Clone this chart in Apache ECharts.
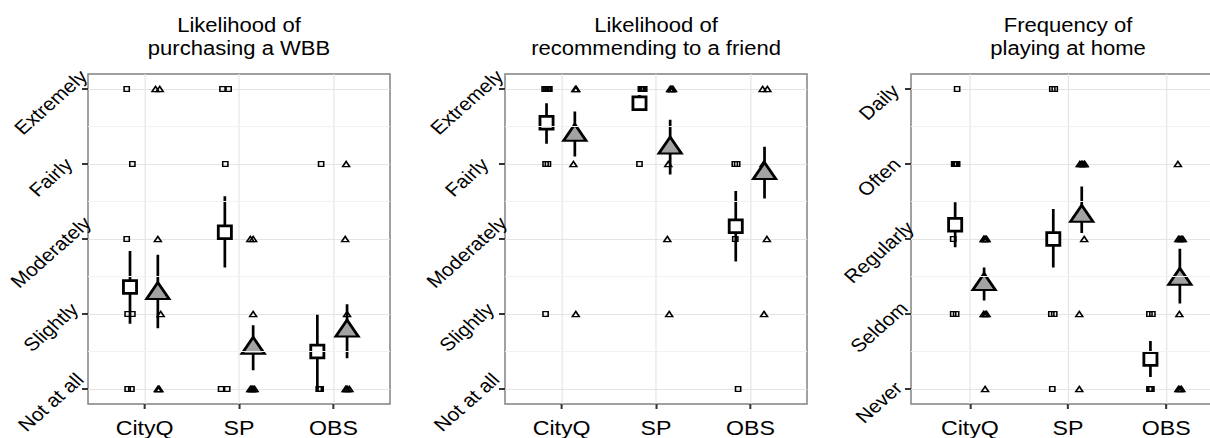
<!DOCTYPE html>
<html>
<head>
<meta charset="utf-8">
<title>WBB ratings</title>
<script src="https://cdn.jsdelivr.net/npm/echarts@6/dist/echarts.min.js"></script>
<style>
  html, body { margin: 0; padding: 0; background: #fff; overflow: hidden; }
  /* the source figure is stretched sideways, so draw narrower and scale it back out */
  #main { width: 1100px; height: 438px; transform: scaleX(1.13); transform-origin: 0 0; }
</style>
</head>
<body>
<div id="main"></div>
<script>
const STRETCH = 1.13;
const FONT = '"Liberation Sans", Arial, Helvetica, sans-serif';

const groups = ['CityQ', 'SP', 'OBS'];
const likelyLevels = ['Not at all', 'Slightly', 'Moderately', 'Fairly', 'Extremely'];
const freqLevels = ['Never', 'Seldom', 'Regularly', 'Often', 'Daily'];
const titles = [
  'Likelihood of\npurchasing a WBB',
  'Likelihood of\nrecommending to a friend',
  'Frequency of\nplaying at home'
];
const groupTicks = [1, 2, 3];
const levelTicks = [1, 2, 3, 4, 5];
const minorLevels = [1.5, 2.5, 3.5, 4.5];

// single answers: [group position + dodge/jitter, level]
const buySquares = [
  [0.81, 5], [0.87, 4], [0.81, 3], [0.82, 2], [0.87, 2], [0.82, 1], [0.86, 1],
  [1.825, 5], [1.89, 5], [1.855, 4], [1.81, 1], [1.875, 1],
  [2.87, 4], [2.845, 1], [2.855, 1], [2.865, 1]
];
const buyTriangles = [
  [1.115, 5], [1.16, 5], [1.14, 3], [1.17, 2], [1.14, 1], [1.15, 1], [1.155, 1],
  [2.12, 3], [2.15, 3], [2.15, 2], [2.12, 1], [2.13, 1], [2.14, 1], [2.15, 1], [2.165, 1],
  [3.135, 4], [3.125, 3], [3.145, 2], [3.13, 1], [3.14, 1], [3.15, 1], [3.17, 1]
];
const recSquares = [
  [0.82, 5], [0.835, 5], [0.85, 5], [0.86, 5], [0.87, 5], [0.83, 4], [0.855, 4], [0.83, 2],
  [1.84, 5], [1.85, 5], [1.86, 5], [1.875, 5], [1.825, 4],
  [2.835, 4], [2.86, 4], [2.84, 3], [2.87, 1]
];
const recTriangles = [
  [1.145, 5], [1.155, 5], [1.125, 4], [1.15, 2],
  [2.15, 5], [2.16, 5], [2.17, 5], [2.18, 5], [2.13, 4], [2.12, 3], [2.14, 2],
  [3.13, 5], [3.18, 5], [3.14, 4], [3.175, 3], [3.145, 2]
];
const playSquares = [
  [0.87, 5], [0.84, 4], [0.85, 4], [0.86, 4], [0.87, 4], [0.83, 3], [0.83, 2], [0.86, 2],
  [1.84, 5], [1.865, 5], [1.86, 3], [1.83, 2], [1.86, 2], [1.84, 1],
  [2.83, 2], [2.86, 2], [2.83, 1], [2.84, 1], [2.85, 1]
];
const playTriangles = [
  [1.14, 3], [1.15, 3], [1.16, 3], [1.17, 3], [1.14, 2], [1.155, 2], [1.17, 2], [1.155, 1],
  [2.12, 4], [2.135, 4], [2.15, 4], [2.165, 4], [2.17, 4], [2.165, 3], [2.115, 2], [2.115, 1],
  [3.12, 4], [3.125, 3], [3.14, 3], [3.155, 3], [3.17, 3], [3.135, 2], [3.125, 1], [3.14, 1], [3.155, 1]
];

// means with error bars: [x, mean, lower, upper]
const buySquareMeans = [[0.845, 2.36, 1.87, 2.84], [1.85, 3.09, 2.62, 3.57], [2.83, 1.50, 1.00, 1.99]];
const buyTriangleMeans = [[1.14, 2.31, 1.81, 2.79], [2.15, 1.58, 1.25, 1.85], [3.145, 1.81, 1.41, 2.13]];
const recSquareMeans = [[0.84, 4.55, 4.27, 4.81], [1.825, 4.81, 4.71, 4.92], [2.845, 3.17, 2.70, 3.64]];
const recTriangleMeans = [[1.14, 4.42, 4.10, 4.70], [2.15, 4.25, 3.86, 4.59], [3.15, 3.91, 3.54, 4.23]];
const playSquareMeans = [[0.85, 3.19, 2.89, 3.49], [1.85, 3.00, 2.62, 3.40], [2.84, 1.40, 1.16, 1.64]];
const playTriangleMeans = [[1.145, 2.43, 2.18, 2.62], [2.14, 3.34, 3.08, 3.70], [3.14, 2.50, 2.14, 2.87]];

// panel layout in picture pixels (before the sideways stretch is undone)
const panels = [
  { left: 88, width: 302, labelMargin: 20, levels: likelyLevels,
    squares: buySquares, triangles: buyTriangles, sqMeans: buySquareMeans, triMeans: buyTriangleMeans },
  { left: 505, width: 302, labelMargin: 21, levels: likelyLevels,
    squares: recSquares, triangles: recTriangles, sqMeans: recSquareMeans, triMeans: recTriangleMeans },
  { left: 911, width: 314, labelMargin: 15.5, levels: freqLevels,
    squares: playSquares, triangles: playTriangles, sqMeans: playSquareMeans, triMeans: playTriangleMeans }
];

const grids = [], xAxes = [], yAxes = [], series = [], titleList = [];

function errorBar(params, api) {
  const top = api.coord([api.value(0), api.value(2)]);
  const bottom = api.coord([api.value(0), api.value(1)]);
  return {
    type: 'line',
    shape: { x1: top[0], y1: top[1], x2: bottom[0], y2: bottom[1] },
    style: { stroke: '#000', lineWidth: 2.4 }
  };
}

panels.forEach((p, i) => {
  const left = p.left / STRETCH;
  const width = p.width / STRETCH;

  grids.push({
    left: left, width: width, top: 74, height: 332,
    show: true, borderColor: '#808080', borderWidth: 1.3, backgroundColor: 'transparent'
  });

  titleList.push({
    text: titles[i],
    left: left + width / 2,
    top: 14,
    textAlign: 'center',
    padding: 0,
    textStyle: { fontSize: 19.5, lineHeight: 22.7, fontWeight: 'normal', color: '#000', fontFamily: FONT }
  });

  xAxes.push({
    type: 'value', gridIndex: i, min: 0.4, max: 3.6,
    axisLine: { show: false },
    axisTick: { show: true, customValues: groupTicks, length: 5, lineStyle: { color: '#333', width: 1.8 } },
    axisLabel: {
      customValues: groupTicks,
      formatter: v => groups[Math.round(v) - 1],
      margin: 13, fontSize: 20.5, color: '#000', fontFamily: FONT
    },
    splitLine: { show: true, lineStyle: { color: '#e4e4e4', width: 1 } }
  });

  yAxes.push({
    type: 'value', gridIndex: i, min: 0.8, max: 5.2,
    axisLine: { show: false },
    axisTick: { show: true, customValues: levelTicks, length: 5.3, lineStyle: { color: '#333', width: 2 } },
    axisLabel: {
      customValues: levelTicks,
      formatter: v => p.levels[Math.round(v) - 1],
      rotate: 45, align: 'center', verticalAlign: 'middle',
      padding: [0, 37, 0, 0],
      margin: p.labelMargin, fontSize: 18.5, color: '#000', fontFamily: FONT
    },
    splitLine: { show: true, lineStyle: { color: '#e4e4e4', width: 1 } }
  });

  // single answers, hollow so that stacked answers turn dark
  series.push({
    type: 'scatter', xAxisIndex: i, yAxisIndex: i, silent: true,
    data: p.squares, symbol: 'rect', symbolSize: [4.6, 4.8],
    itemStyle: { color: 'rgba(0,0,0,0)', borderColor: '#000', borderWidth: 1.4, opacity: 1 },
    markLine: {
      silent: true, symbol: ['none', 'none'], label: { show: false },
      lineStyle: { color: '#f2f2f2', width: 1, type: 'solid' },
      data: minorLevels.map(v => ({ yAxis: v }))
    }
  });
  series.push({
    type: 'scatter', xAxisIndex: i, yAxisIndex: i, silent: true,
    data: p.triangles, symbol: 'triangle', symbolSize: [6.2, 5.2],
    itemStyle: { color: 'rgba(0,0,0,0)', borderColor: '#000', borderWidth: 1.4, opacity: 1 }
  });

  // error bars
  [p.sqMeans, p.triMeans].forEach(m => {
    series.push({
      type: 'custom', xAxisIndex: i, yAxisIndex: i, silent: true,
      data: m.map(d => [d[0], d[2], d[3]]),
      encode: { x: 0, y: [1, 2] },
      renderItem: errorBar
    });
  });

  // means
  series.push({
    type: 'scatter', xAxisIndex: i, yAxisIndex: i, silent: true,
    data: p.sqMeans.map(d => [d[0], d[1]]), symbol: 'rect', symbolSize: [11.6, 12.6],
    itemStyle: { color: '#fff', borderColor: '#000', borderWidth: 2.6, opacity: 1 }
  });
  series.push({
    type: 'scatter', xAxisIndex: i, yAxisIndex: i, silent: true,
    data: p.triMeans.map(d => [d[0], d[1]]), symbol: 'triangle', symbolSize: [20, 16.5],
    itemStyle: { color: '#a3a3a3', borderColor: '#000', borderWidth: 2.4, opacity: 1 }
  });
});

const chart = echarts.init(document.getElementById('main'), null, { renderer: 'svg' });
chart.setOption({
  animation: false,
  backgroundColor: '#fff',
  title: titleList,
  grid: grids,
  xAxis: xAxes,
  yAxis: yAxes,
  series: series
});
</script>
</body>
</html>
